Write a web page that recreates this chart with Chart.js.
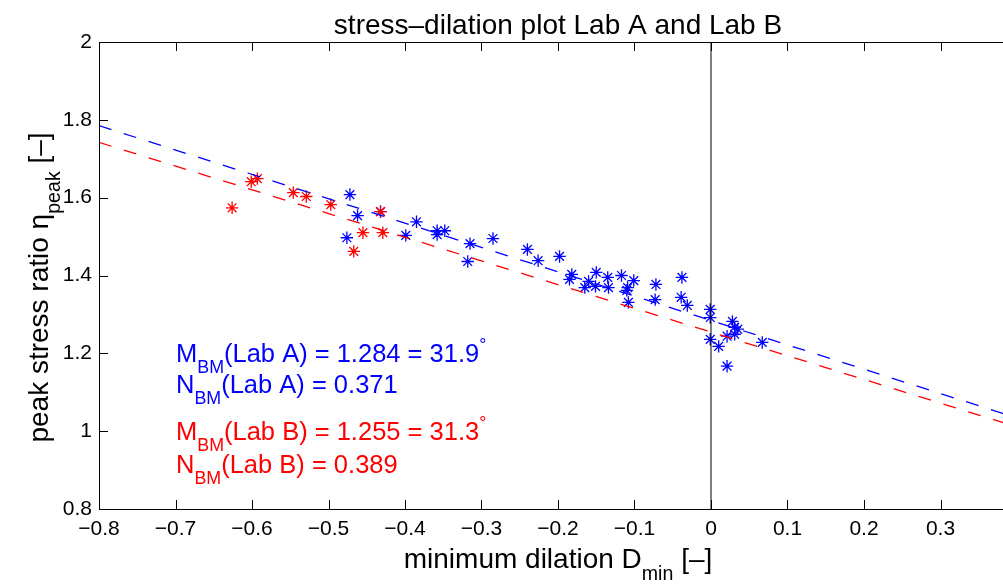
<!DOCTYPE html>
<html>
<head>
<meta charset="utf-8">
<script src="https://cdn.jsdelivr.net/npm/chart.js@4.4.0/dist/chart.umd.min.js"></script>
<style>
  html, body { margin: 0; padding: 0; background: #fff; overflow: hidden; }
  canvas { display: block; }
</style>
</head>
<body>
<canvas id="chart" width="1030" height="587"></canvas>
<script>
// Lab A (blue) measurements
const labADilation = [-0.472, -0.462, -0.476, -0.432, -0.385, -0.399, -0.358, -0.358, -0.348, -0.315,
  -0.318, -0.285, -0.240, -0.226, -0.198, -0.182, -0.185, -0.160, -0.165, -0.150,
  -0.151, -0.135, -0.134, -0.117, -0.101, -0.109, -0.110, -0.108, -0.072, -0.073,
  -0.038, -0.039, -0.031, -0.001, -0.001, -0.001, 0.010, 0.021, 0.028, 0.031,
  0.035, 0.031, 0.067, 0.021];
const labAStress = [1.608, 1.554, 1.497, 1.564, 1.538, 1.503, 1.515, 1.505, 1.515, 1.482,
  1.436, 1.495, 1.467, 1.438, 1.449, 1.403, 1.390, 1.385, 1.369, 1.408,
  1.372, 1.395, 1.369, 1.400, 1.387, 1.369, 1.362, 1.331, 1.377, 1.338,
  1.395, 1.344, 1.323, 1.313, 1.292, 1.236, 1.218, 1.244, 1.282, 1.267,
  1.262, 1.249, 1.228, 1.167];

// Lab B (red) measurements
const labBDilation = [-0.626, -0.601, -0.593, -0.546, -0.529, -0.497, -0.432, -0.455, -0.429, -0.467];
const labBStress = [1.574, 1.641, 1.649, 1.613, 1.603, 1.582, 1.564, 1.510, 1.510, 1.462];

// fitted lines (end points)
const fitDilation = [-0.8, 0.4];
const fitLabA = [1.785, 1.034];
const fitLabB = [1.742, 1.011];

const xTicks = [-0.8, -0.7, -0.6, -0.5, -0.4, -0.3, -0.2, -0.1, 0, 0.1, 0.2, 0.3];
const xTickLabels = ['\u22120.8', '\u22120.7', '\u22120.6', '\u22120.5', '\u22120.4', '\u22120.3',
  '\u22120.2', '\u22120.1', '0', '0.1', '0.2', '0.3'];
const yTicks = [0.8, 1, 1.2, 1.4, 1.6, 1.8, 2];
const yTickLabels = ['0.8', '1', '1.2', '1.4', '1.6', '1.8', '2'];

const FONT = '"Liberation Sans", Arial, Helvetica, sans-serif';
const BLUE = '#0000ff';
const RED = '#ff0000';

function toPoints(xs, ys) {
  return xs.map((x, i) => ({ x: x, y: ys[i] }));
}

// text with sub/superscripts: parts = [[text, mode]], mode 0 normal, 1 sub, 2 sup
function richWidth(ctx, parts, size) {
  let w = 0;
  parts.forEach(p => {
    const s = p[1] ? size * 0.7 : size;
    ctx.font = s + 'px ' + FONT;
    w += ctx.measureText(p[0]).width;
  });
  return w;
}

function drawRich(ctx, parts, x, y, size, align) {
  if (align === 'center') x -= richWidth(ctx, parts, size) / 2;
  ctx.textAlign = 'left';
  ctx.textBaseline = 'alphabetic';
  parts.forEach(p => {
    const s = p[1] ? size * 0.7 : size;
    let dy = 0;
    if (p[1] === 1) dy = size * 0.44;
    if (p[1] === 2) dy = -size * 0.45;
    ctx.font = s + 'px ' + FONT;
    ctx.fillText(p[0], x, y + dy);
    x += ctx.measureText(p[0]).width;
  });
}

const framePlugin = {
  id: 'frame',
  afterDraw(chart) {
    const ctx = chart.ctx;
    const a = chart.chartArea;
    const x = chart.scales.x;
    const y = chart.scales.y;
    ctx.save();
    ctx.strokeStyle = '#000';
    ctx.lineWidth = 1;
    ctx.strokeRect(a.left + 0.5, a.top + 0.5, a.right - a.left, a.bottom - a.top);
    ctx.beginPath();
    xTicks.forEach(v => {
      const px = Math.round(x.getPixelForValue(v)) + 0.5;
      ctx.moveTo(px, a.bottom); ctx.lineTo(px, a.bottom - 9);
      ctx.moveTo(px, a.top); ctx.lineTo(px, a.top + 9);
    });
    yTicks.forEach(v => {
      const py = Math.round(y.getPixelForValue(v)) + 0.5;
      ctx.moveTo(a.left, py); ctx.lineTo(a.left + 9, py);
      ctx.moveTo(a.right, py); ctx.lineTo(a.right - 9, py);
    });
    ctx.stroke();

    ctx.fillStyle = '#000';
    const cx = (a.left + a.right) / 2;
    drawRich(ctx, [['stress\u2013dilation plot Lab A and Lab B', 0]], cx, 34, 28, 'center');
    drawRich(ctx, [['minimum dilation D', 0], ['min', 1], [' [\u2013]', 0]], cx, 568, 28, 'center');

    ctx.save();
    ctx.translate(48, (a.top + a.bottom) / 2 + 12);
    ctx.rotate(-Math.PI / 2);
    drawRich(ctx, [['peak stress ratio \u03b7', 0], ['peak', 1], [' [\u2013]', 0]], 0, 0, 28, 'center');
    ctx.restore();

    ctx.fillStyle = BLUE;
    drawRich(ctx, [['M', 0], ['BM', 1], ['(Lab A) = 1.284 = 31.9', 0], ['\u00b0', 2]], 176, 362, 25.5);
    drawRich(ctx, [['N', 0], ['BM', 1], ['(Lab A) = 0.371', 0]], 176, 393, 25.5);
    ctx.fillStyle = RED;
    drawRich(ctx, [['M', 0], ['BM', 1], ['(Lab B) = 1.255 = 31.3', 0], ['\u00b0', 2]], 176, 440, 25.5);
    drawRich(ctx, [['N', 0], ['BM', 1], ['(Lab B) = 0.389', 0]], 176, 473, 25.5);
    ctx.restore();
  }
};

new Chart(document.getElementById('chart'), {
  type: 'scatter',
  data: {
    datasets: [
      {
        label: 'D = 0',
        data: [{ x: 0, y: 0.8 }, { x: 0, y: 2 }],
        showLine: true, borderColor: '#000', borderWidth: 1, pointRadius: 0
      },
      {
        label: 'fit Lab B',
        data: toPoints(fitDilation, fitLabB),
        showLine: true, borderColor: RED, borderWidth: 1.3, borderDash: [13, 13], pointRadius: 0
      },
      {
        label: 'fit Lab A',
        data: toPoints(fitDilation, fitLabA),
        showLine: true, borderColor: BLUE, borderWidth: 1.3, borderDash: [13, 13], pointRadius: 0
      },
      {
        label: 'Lab B',
        data: toPoints(labBDilation, labBStress),
        pointStyle: 'star', pointRadius: 6.2, borderColor: RED, borderWidth: 1.3, backgroundColor: RED
      },
      {
        label: 'Lab A',
        data: toPoints(labADilation, labAStress),
        pointStyle: 'star', pointRadius: 6.2, borderColor: BLUE, borderWidth: 1.3, backgroundColor: BLUE
      }
    ]
  },
  options: {
    responsive: false,
    animation: false,
    devicePixelRatio: 1,
    layout: { padding: { top: 42, right: 13, left: 0, bottom: 0 } },
    plugins: { legend: { display: false }, tooltip: { enabled: false } },
    scales: {
      x: {
        type: 'linear', min: -0.8, max: 0.4,
        afterBuildTicks: s => { s.ticks = xTicks.map(v => ({ value: v })); },
        afterFit: s => { s.height = 78; },
        grid: { display: false, drawTicks: false },
        border: { display: false },
        ticks: {
          padding: 8, color: '#000', font: { size: 21, family: FONT },
          maxRotation: 0, autoSkip: false,
          callback: (v, i) => xTickLabels[i]
        }
      },
      y: {
        type: 'linear', min: 0.8, max: 2,
        afterBuildTicks: s => { s.ticks = yTicks.map(v => ({ value: v })); },
        afterFit: s => { s.width = 99; },
        grid: { display: false, drawTicks: false },
        border: { display: false },
        ticks: {
          padding: 7, color: '#000', font: { size: 21, family: FONT },
          autoSkip: false,
          callback: (v, i) => yTickLabels[i]
        }
      }
    }
  },
  plugins: [framePlugin]
});
</script>
</body>
</html>
